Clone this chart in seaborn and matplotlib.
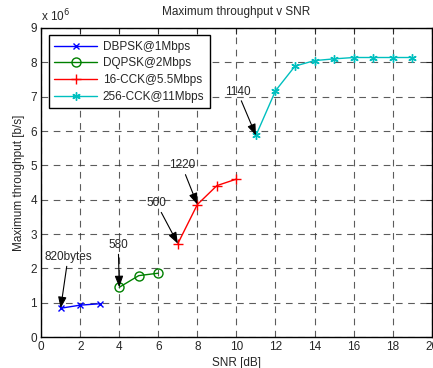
import matplotlib
matplotlib.use("Agg")
import matplotlib.pyplot as plt
import seaborn as sns
import pandas as pd

# Data (throughput in units of 10^6 b/s)
dbpsk_snr = [1, 2, 3]
dbpsk_thr = [0.84, 0.93, 0.97]
dqpsk_snr = [4, 5, 6]
dqpsk_thr = [1.45, 1.79, 1.86]
cck16_snr = [7, 8, 9, 10]
cck16_thr = [2.72, 3.86, 4.41, 4.60]
cck256_snr = [11, 12, 13, 14, 15, 16, 17, 18, 19]
cck256_thr = [5.87, 7.17, 7.89, 8.05, 8.10, 8.14, 8.14, 8.14, 8.14]

series_names = ["DBPSK@1Mbps", "DQPSK@2Mbps", "16-CCK@5.5Mbps", "256-CCK@11Mbps"]
annot_labels = ["820bytes", "580", "500", "1220", "1140"]

sns.set_style("white")
plt.rcParams['font.family'] = ['Liberation Sans', 'DejaVu Sans']
plt.rcParams['font.size'] = 8.5

fig = plt.figure(figsize=(4.33, 3.68), dpi=100)
ax = fig.add_axes([0.095, 0.084, 0.902, 0.84])

specs = [
    (dbpsk_snr, dbpsk_thr, series_names[0], "blue", "x", 4.5, dict()),
    (dqpsk_snr, dqpsk_thr, series_names[1], "#008000", "o", 6.5, dict(markerfacecolor="none")),
    (cck16_snr, cck16_thr, series_names[2], "red", "+", 7, dict()),
    (cck256_snr, cck256_thr, series_names[3], "#00BFBF", (6, 2, 0), 6, dict()),
]
for x, y, name, col, mk, ms, extra in specs:
    df = pd.DataFrame({"SNR": x, "thr": y})
    sns.lineplot(data=df, x="SNR", y="thr", ax=ax, color=col, marker=mk,
                 markersize=ms, linewidth=1, label=name,
                 markeredgecolor=col, markeredgewidth=1, **extra)

ax.set_xlim(0, 20)
ax.set_ylim(0, 9)
ax.set_xticks(range(0, 21, 2))
ax.set_yticks(range(0, 10))
ax.set_xticklabels([str(v) for v in range(0, 21, 2)])
ax.grid(True, color="#333333", linestyle=(0, (6, 5)), linewidth=0.8, alpha=0.8)
ax.tick_params(direction="in", top=True, right=True, length=4, width=0.8,
               labelsize=8.5, pad=3)
for s in ax.spines.values():
    s.set_color("black")
    s.set_linewidth(1)

ax.set_title("Maximum throughput v SNR", fontsize=8.5, pad=9)
ax.set_xlabel("SNR [dB]", fontsize=8.5, labelpad=3)
ax.set_ylabel("Maximum throughput [b/s]", fontsize=8.5, labelpad=4)
ax.text(0.0, 1.012, "x 10$^6$", transform=ax.transAxes, fontsize=8.5,
        ha="left", va="bottom")

arrow = dict(arrowstyle="-|>,head_length=0.8,head_width=0.3", color="black",
             lw=0.8, shrinkA=0, shrinkB=0)
targets = [(1, dbpsk_thr[0]), (4, dqpsk_thr[0]), (7, cck16_thr[0]),
           (8, cck16_thr[1]), (11, cck256_thr[0])]
text_pos = [(1.38, 2.33), (3.95, 2.68), (5.9, 3.9), (7.2, 5.0), (10.05, 7.15)]
for lab, tgt, tp in zip(annot_labels, targets, text_pos):
    ax.annotate(lab, xy=tgt, xytext=tp, ha="center", va="center",
                fontsize=8.5, arrowprops=arrow)

leg = ax.legend(loc="upper left", bbox_to_anchor=(0.005, 0.995), frameon=True,
                fancybox=False, edgecolor="black", framealpha=1,
                fontsize=8.5, handlelength=3.6, borderpad=0.45,
                labelspacing=0.4, handletextpad=0.5)
leg.get_frame().set_linewidth(1)

fig.savefig("out.png", dpi=100)
